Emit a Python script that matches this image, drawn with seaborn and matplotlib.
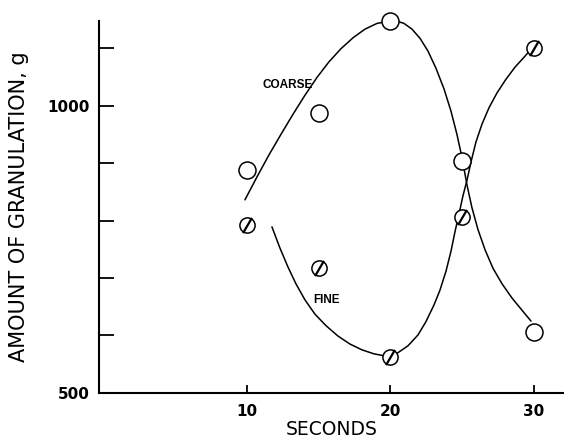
import matplotlib
matplotlib.use("Agg")
import matplotlib.pyplot as plt
import seaborn as sns
import pandas as pd

# Observed points
seconds = [10, 15, 20, 25, 30]
coarse_pts = [888, 987, 1147, 903, 606]
fine_pts = [792, 717, 562, 806, 1100]

# Hand-drawn fitted curves
coarse_curve_x = [9.86, 10.70, 11.53, 12.37, 13.21, 14.04, 14.88, 15.71, 16.55, 17.39,
                  18.22, 19.06, 19.90, 20.45, 20.94, 21.50, 22.06, 22.61, 23.17, 23.73,
                  24.22, 24.63, 24.98, 25.33, 25.68, 26.10, 26.59, 27.14, 27.77, 28.47,
                  29.16, 29.79]
coarse_curve_y = [836, 876, 914, 950, 985, 1018, 1049, 1076, 1099, 1118,
                  1133, 1143, 1147, 1147, 1143, 1133, 1117, 1095, 1065, 1029,
                  990, 950, 910, 862, 822, 784, 749, 717, 690, 665,
                  644, 625]
fine_curve_x = [11.74, 12.30, 12.86, 13.41, 14.04, 14.74, 15.51, 16.34, 17.18, 18.01,
                18.85, 19.69, 20.10, 20.52, 21.22, 21.92, 22.47, 23.03, 23.45, 23.87,
                24.22, 24.49, 24.77, 25.05, 25.33, 25.61, 25.96, 26.38, 26.86, 27.42,
                28.05, 28.68, 29.30, 29.79]
fine_curve_y = [789, 752, 719, 690, 662, 637, 617, 599, 585, 575,
                568, 564, 564, 570, 582, 601, 624, 653, 679, 712,
                747, 780, 811, 843, 870, 902, 937, 968, 996, 1022,
                1046, 1067, 1084, 1098]

y_ticks = [500, 600, 700, 800, 900, 1000, 1100]
y_ticklabels = ["500", "", "", "", "", "1000", ""]
x_ticks = [10, 20, 30]
x_ticklabels = ["10", "20", "30"]

sns.set_style("ticks", {"axes.edgecolor": "black", "text.color": "black",
                        "xtick.color": "black", "ytick.color": "black",
                        "axes.labelcolor": "black"})
plt.rcParams["font.family"] = ["DejaVu Sans"]

fig = plt.figure(figsize=(5.64, 4.40), dpi=100)
ax = fig.add_axes([0.1755, 0.107, 1.0 - 0.1755, 0.952 - 0.107])

coarse_curve = pd.DataFrame({"x": coarse_curve_x, "y": coarse_curve_y})
fine_curve = pd.DataFrame({"x": fine_curve_x, "y": fine_curve_y})
sns.lineplot(data=coarse_curve, x="x", y="y", sort=False, estimator=None,
             color="black", linewidth=1.1, ax=ax)
sns.lineplot(data=fine_curve, x="x", y="y", sort=False, estimator=None,
             color="black", linewidth=1.1, ax=ax)

pts = pd.DataFrame({"x": seconds, "coarse": coarse_pts, "fine": fine_pts})
sns.scatterplot(data=pts, x="x", y="coarse", marker="o", s=150,
                facecolor="white", edgecolor="black", linewidth=1.1,
                ax=ax, zorder=5, clip_on=False)
sns.scatterplot(data=pts, x="x", y="fine", marker="o", s=120,
                facecolor="white", edgecolor="black", linewidth=1.1,
                ax=ax, zorder=5, clip_on=False)
slash = [(-0.28, -0.48), (0.28, 0.48)]
sns.scatterplot(data=pts, x="x", y="fine", marker=slash, s=120,
                color="black", linewidth=1.6, edgecolor="black",
                ax=ax, zorder=6, clip_on=False)

ax.text(11.1, 1036, "COARSE", fontsize=8.5, fontweight="bold", ha="left", va="center",
        family="Liberation Sans", color="black")
ax.text(14.6, 662, "FINE", fontsize=8.5, fontweight="bold", ha="left", va="center",
        family="Liberation Sans", color="black")

ax.set_xlim(-0.31, 32.09)
ax.set_ylim(500, 1147)
ax.set_xticks(x_ticks)
ax.set_xticklabels(x_ticklabels, fontsize=11, fontweight="bold", color="black")
ax.set_yticks(y_ticks)
ax.set_yticklabels(y_ticklabels, fontsize=11, fontweight="bold", color="black")
ax.tick_params(axis="y", direction="in", length=11, width=1.3, pad=7, colors="black")
ax.tick_params(axis="x", direction="in", length=6, width=1.3, pad=8, colors="black")

sns.despine(ax=ax)
for sp in ("left", "bottom"):
    ax.spines[sp].set_linewidth(1.5)
    ax.spines[sp].set_color("black")

ax.set_xlabel("SECONDS", fontsize=13.5, labelpad=1, color="black")
ax.set_ylabel("AMOUNT OF GRANULATION, g", fontsize=15, labelpad=13, color="black")

fig.savefig("out.png", dpi=100)
